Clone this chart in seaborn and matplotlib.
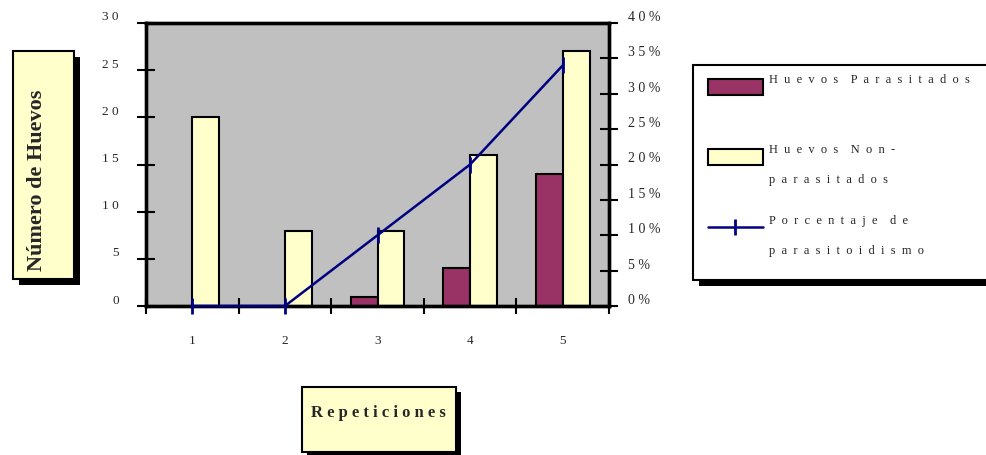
import numpy as np
import pandas as pd
import matplotlib
matplotlib.use("Agg")
import matplotlib.pyplot as plt
import matplotlib.transforms as mtransforms
from matplotlib.patches import Rectangle
from matplotlib.lines import Line2D
import seaborn as sns

# ---- data -------------------------------------------------------------
repeticiones = ["1", "2", "3", "4", "5"]
huevos_parasitados = [0, 0, 1, 4, 14]
huevos_no_parasitados = [20, 8, 8, 16, 27]
porcentaje_parasitoidismo = [0, 0, 10, 20, 34]

serie_parasitados = "Huevos Parasitados"
serie_no_parasitados = "Huevos Non-parasitados"
serie_porcentaje = "Porcentaje de parasitoidismo"

ticks_huevos = [0, 5, 10, 15, 20, 25, 30]
ticks_porcentaje = [0, 5, 10, 15, 20, 25, 30, 35, 40]

# ---- style ------------------------------------------------------------
COLOR_PARASITADOS = "#993366"
COLOR_NO_PARASITADOS = "#FFFFCC"
COLOR_LINEA = "#000080"
COLOR_FONDO = "#C0C0C0"

sns.set_style("white")
plt.rcParams["font.family"] = ["Liberation Serif", "DejaVu Serif"]


def espaciar(texto, entre_letras=1, entre_palabras=3):
    """Spread the letters of a text apart (wide letter spacing)."""
    palabras = texto.split(" ")
    sep_l = " " * entre_letras
    sep_p = " " * entre_palabras
    return sep_p.join(sep_l.join(p) for p in palabras)


W, H = 986, 455
fig = plt.figure(figsize=(W / 100, H / 100), dpi=100)
# pixel coordinates with origin at the top-left corner
px = mtransforms.Affine2D().scale(1 / W, -1 / H).translate(0, 1) + fig.transFigure

ax = fig.add_axes([146 / W, 1 - 306 / H, (609 - 146) / W, (306 - 23) / H])
ax.set_facecolor(COLOR_FONDO)

df = pd.DataFrame({
    "Repetición": repeticiones * 2,
    "Serie": [serie_parasitados] * len(repeticiones)
    + [serie_no_parasitados] * len(repeticiones),
    "Huevos": huevos_parasitados + huevos_no_parasitados,
})

sns.barplot(
    data=df, x="Repetición", y="Huevos", hue="Serie",
    hue_order=[serie_parasitados, serie_no_parasitados],
    palette={serie_parasitados: COLOR_PARASITADOS,
             serie_no_parasitados: COLOR_NO_PARASITADOS},
    width=0.58, saturation=1, edgecolor="black", linewidth=1.5,
    legend=False, ax=ax, zorder=2,
)

ax2 = ax.twinx()
sns.lineplot(
    x=np.arange(len(repeticiones)), y=porcentaje_parasitoidismo,
    color=COLOR_LINEA, linewidth=1.8, marker="|", markersize=12,
    markeredgewidth=2, markeredgecolor=COLOR_LINEA, ax=ax2,
    clip_on=False, zorder=5,
)

n = len(repeticiones)
ax.set_xlim(-0.5, n - 0.5)
ax.set_ylim(0, 30)
ax2.set_ylim(0, 40)

# x axis: tick marks on category boundaries, labels at the centres
ax.set_xticks(np.arange(n + 1) - 0.5)
ax.set_xticklabels([])
ax.set_xticks(np.arange(n), minor=True)
ax.set_xticklabels(repeticiones, minor=True, fontsize=9.5)
ax.tick_params(axis="x", which="major", bottom=True, direction="inout",
               length=12, width=1.5, color="black")
ax.tick_params(axis="x", which="minor", bottom=True, length=0, pad=21)

ax.set_yticks(ticks_huevos)
ax.set_yticklabels([espaciar(str(v)) for v in ticks_huevos], fontsize=9.5)
ax.tick_params(axis="y", left=True, direction="inout", length=13,
               width=1.5, color="black", pad=13)

ax2.set_yticks(ticks_porcentaje)
ax2.set_yticklabels([espaciar(f"{v}%") for v in ticks_porcentaje], fontsize=10)
ax2.tick_params(axis="y", right=True, direction="inout", length=13,
                width=1.5, color="black", pad=7)

ax.set_xlabel("")
ax.set_ylabel("")
ax2.set_xlabel("")
ax2.set_ylabel("")

for a in (ax, ax2):
    for s in a.spines.values():
        s.set_visible(True)
        s.set_color("black")
        s.set_linewidth(2.4)

# tick labels sit a little above their tick marks
subir = mtransforms.ScaledTranslation(0, 7 / 100, fig.dpi_scale_trans)
for lab in ax.get_yticklabels() + ax2.get_yticklabels():
    lab.set_transform(lab.get_transform() + subir)


def caja(x0, y0, x1, y1, sombra, color, lw=1.5):
    """Framed box with a solid black drop shadow, in pixel coordinates."""
    fig.patches.append(Rectangle((x0 + sombra, y0 + sombra), x1 - x0, y1 - y0,
                                 transform=px, facecolor="black",
                                 edgecolor="none", zorder=1))
    fig.patches.append(Rectangle((x0, y0), x1 - x0, y1 - y0, transform=px,
                                 facecolor=color, edgecolor="black",
                                 linewidth=lw, zorder=2))


# axis titles in framed boxes
caja(13, 51, 74, 279, 6, COLOR_NO_PARASITADOS)
fig.text(37, 180, "Número de Huevos", transform=px, rotation=90,
         ha="center", va="center", fontsize=16, fontweight="bold", zorder=3)

caja(302, 387, 456, 452, 5, COLOR_NO_PARASITADOS)
fig.text(378, 413, espaciar("Repeticiones"), transform=px, ha="center",
         va="center", fontsize=12, fontweight="bold", zorder=3)

# legend
caja(693, 65, 995, 280, 6, "white")
fig.patches.append(Rectangle((708, 79), 55, 16, transform=px,
                             facecolor=COLOR_PARASITADOS, edgecolor="black",
                             linewidth=1.5, zorder=3))
fig.patches.append(Rectangle((708, 149), 55, 16, transform=px,
                             facecolor=COLOR_NO_PARASITADOS, edgecolor="black",
                             linewidth=1.5, zorder=3))
fig.lines.append(Line2D([708, 763], [227, 227], transform=px,
                        color=COLOR_LINEA, linewidth=1.8, zorder=3))
fig.lines.append(Line2D([735], [227], transform=px, color=COLOR_LINEA,
                        marker="|", markersize=12, markeredgewidth=2,
                        zorder=3))

kw = dict(transform=px, ha="left", va="baseline", fontsize=9, zorder=4)
fig.text(769, 83, espaciar(serie_parasitados, 2, 4), **kw)
fig.text(769, 153, espaciar("Huevos Non-", 2, 4), **kw)
fig.text(769, 183, espaciar("parasitados", 2, 4), **kw)
fig.text(769, 224, espaciar("Porcentaje de", 2, 4), **kw)
fig.text(769, 254, espaciar("parasitoidismo", 2, 4), **kw)

fig.savefig("out.png", dpi=100)
